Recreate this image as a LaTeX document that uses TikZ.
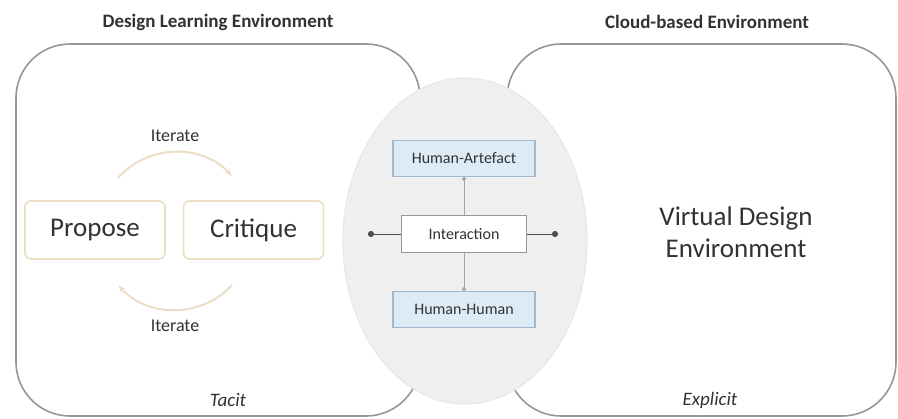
\documentclass[tikz,border=0pt]{standalone}
\usepackage{fontspec}
\setmainfont{Carlito}
\usetikzlibrary{arrows.meta,positioning}

\definecolor{envgray}{RGB}{150,150,150}
\definecolor{ovalfill}{RGB}{239,239,239}
\definecolor{ovalline}{RGB}{232,232,232}
\definecolor{beige}{RGB}{236,222,198}
\definecolor{humanfill}{RGB}{221,235,247}
\definecolor{humanline}{RGB}{160,185,210}
\definecolor{textgray}{RGB}{50,50,50}

\begin{document}
\begin{tikzpicture}[x=0.5pt,y=0.5pt,
    envbox/.style={draw=envgray, line width=0.8pt, rounded corners=27pt,
      minimum width=202pt, minimum height=186pt},
    title/.style={font=\bfseries\fontsize{9.5}{11}\selectfont, text=textgray},
    mode/.style={font=\itshape\fontsize{9.5}{11}\selectfont, text=textgray},
    stage/.style={draw=beige, line width=0.8pt, rounded corners=3pt, fill=white,
      minimum width=70pt, minimum height=29pt, text=textgray,
      font=\fontsize{13.5}{16}\selectfont},
    iterlabel/.style={font=\fontsize{9}{11}\selectfont, text=textgray},
    iter/.style={draw=beige, line width=1pt, -{Stealth[length=4pt]}},
    humanbox/.style={draw=humanline, fill=humanfill, line width=0.6pt,
      minimum width=71pt, minimum height=18pt, text=textgray,
      font=\fontsize{8}{10}\selectfont},
    plainbox/.style={draw=envgray, fill=white, line width=0.6pt,
      minimum width=62.5pt, minimum height=18.5pt, text=textgray,
      font=\fontsize{8}{10}\selectfont},
    link/.style={draw=black!70, line width=0.5pt}]
  \useasboundingbox (0,0) rectangle (898,418);

  % environments
  \node[title] (design_title) at (218,396) {Design Learning Environment};
  \node[title] (cloud_title) at (707,396) {Cloud-based Environment};
  \node[envbox] (design_env) at (218,188) {};
  \node[envbox, minimum width=194.5pt] (cloud_env) at (701.5,188) {};
  \node[mode] (tacit) at (228,18) {Tacit};
  \node[mode] (explicit) at (710,18) {Explicit};
  \node[align=center, text=textgray, font=\fontsize{13.5}{16}\selectfont]
    (virtual_env) at (736,186) {Virtual Design\\Environment};

  % interaction oval
  \draw[fill=ovalfill, draw=ovalline, line width=0.6pt]
    (465,177) ellipse [x radius=61pt, y radius=81.5pt];
  \node[plainbox] (interaction) at (464,184) {Interaction};
  \node[humanbox, above=19pt of interaction] (human_artefact) {Human-Artefact};
  \node[humanbox, below=19pt of interaction] (human_human) {Human-Human};
  \coordinate (left_end) at (368,184);
  \coordinate (right_end) at (558,184);
  \draw[link, -{Circle[length=3pt]}] (interaction) -- (left_end);
  \draw[link, -{Circle[length=3pt]}] (interaction) -- (right_end);
  \draw[link, draw=gray!70, -{Circle[length=2pt]}] (interaction) -- (human_artefact);
  \draw[link, draw=gray!70, -{Circle[length=2pt]}] (interaction) -- (human_human);

  % propose / critique loop
  \node[stage] (propose) at (95,188) {Propose};
  \node[stage, right=8.5pt of propose] (critique) {Critique};
  \node[iterlabel] (iterate_top) at (175,282) {Iterate};
  \node[iterlabel] (iterate_bottom) at (175,92) {Iterate};
  \coordinate (top_from) at (118,240);
  \coordinate (top_to) at (232,242);
  \coordinate (bottom_from) at (232,133);
  \coordinate (bottom_to) at (118,133);
  \draw[iter] (top_from) to[bend left=48] (top_to);
  \draw[iter] (bottom_from) to[bend left=48] (bottom_to);
\end{tikzpicture}
\end{document}
